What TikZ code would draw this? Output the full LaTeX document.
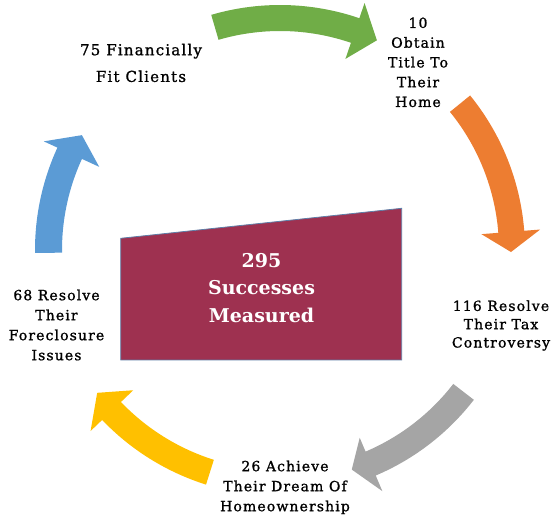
\documentclass[tikz,border=0pt]{standalone}
\usepackage{fontspec}
\setmainfont{DejaVu Serif}
\newfontfamily\lblfont[LetterSpace=8,FakeBold=1.2]{DejaVu Serif}
\definecolor{cgreen}{HTML}{70AD47}
\definecolor{corange}{HTML}{ED7D31}
\definecolor{cgray}{HTML}{A5A5A5}
\definecolor{cyellow}{HTML}{FFC000}
\definecolor{cblue}{HTML}{5B9BD5}
\definecolor{cmaroon}{HTML}{9E3150}
\definecolor{cedge}{HTML}{5F7FA8}
\tikzset{
  lbl/.style={align=center, inner sep=0pt, anchor=north, text=black},
  midlbl/.style={align=center, inner sep=0pt, anchor=north, text=white,
    font=\bfseries\fontsize{19}{27.5}\selectfont},
}
\begin{document}
\begin{tikzpicture}[x=1pt,y=1pt]
\useasboundingbox (0,0) rectangle (557,517);
% ring of arrows, centre (280,267)
\begin{scope}[shift={(280,267)}]
\fill[cgreen] (106.3:245) arc[start angle=106.3, end angle=71.1, radius=245]
  -- (71.1:261) -- (65.2:231) -- (71.1:202) -- (71.1:219)
  arc[start angle=71.1, end angle=106.3, radius=219] -- cycle;
\fill[corange] (39.1:245) arc[start angle=39.1, end angle=4.5, radius=245]
  -- (4.5:261) -- (-0.5:231) -- (4.5:202) -- (4.5:219)
  arc[start angle=4.5, end angle=39.1, radius=219] -- cycle;
\fill[cgray] (-37.7:245) arc[start angle=-37.7, end angle=-67, radius=245]
  -- (-67:262) -- (-71.9:231) -- (-67:204) -- (-67:219)
  arc[start angle=-67, end angle=-37.7, radius=219] -- cycle;
\fill[cyellow] (-107.5:246) arc[start angle=-107.5, end angle=-136.3, radius=246]
  -- (-136.3:262) -- (-142:232) -- (-136.3:203) -- (-136.3:220)
  arc[start angle=-136.3, end angle=-107.5, radius=220] -- cycle;
\fill[cblue] (180.7:245) arc[start angle=180.7, end angle=155.3, radius=245]
  -- (155.3:260) -- (149.9:229) -- (155.3:199) -- (155.3:218)
  arc[start angle=155.3, end angle=180.7, radius=218] -- cycle;
\end{scope}
% central panel
\fill[cmaroon, draw=cedge, line width=0.8pt] (120.7,278.7) -- (401.7,308.7) -- (401.7,157) -- (120.7,157) -- cycle;
\node[midlbl] (mid) at (261.5,269) {\strut 295\\\strut Successes\\\strut Measured};
% labels
\node[lbl, font=\lblfont\fontsize{15}{26.7}\selectfont] (fit) at (141,480.7) {\strut 75 Financially\\\strut Fit Clients};
\node[lbl, font=\lblfont\fontsize{14}{19.75}\selectfont] (title) at (418,503.1) {\strut 10\\\strut Obtain\\\strut Title To\\\strut Their\\\strut Home};
\node[lbl, font=\lblfont\fontsize{14}{20}\selectfont] (fore) at (56.5,231) {\strut 68 Resolve\\\strut Their\\\strut Foreclosure\\\strut Issues};
\node[lbl, font=\lblfont\fontsize{14}{18.3}\selectfont] (tax) at (501,219.1) {\strut 116 Resolve\\\strut Their Tax\\\strut Controversy};
\node[lbl, font=\lblfont\fontsize{14}{20}\selectfont] (home) at (285,60) {\strut 26 Achieve\\\strut Their Dream Of\\\strut Homeownership};
\end{tikzpicture}
\end{document}
